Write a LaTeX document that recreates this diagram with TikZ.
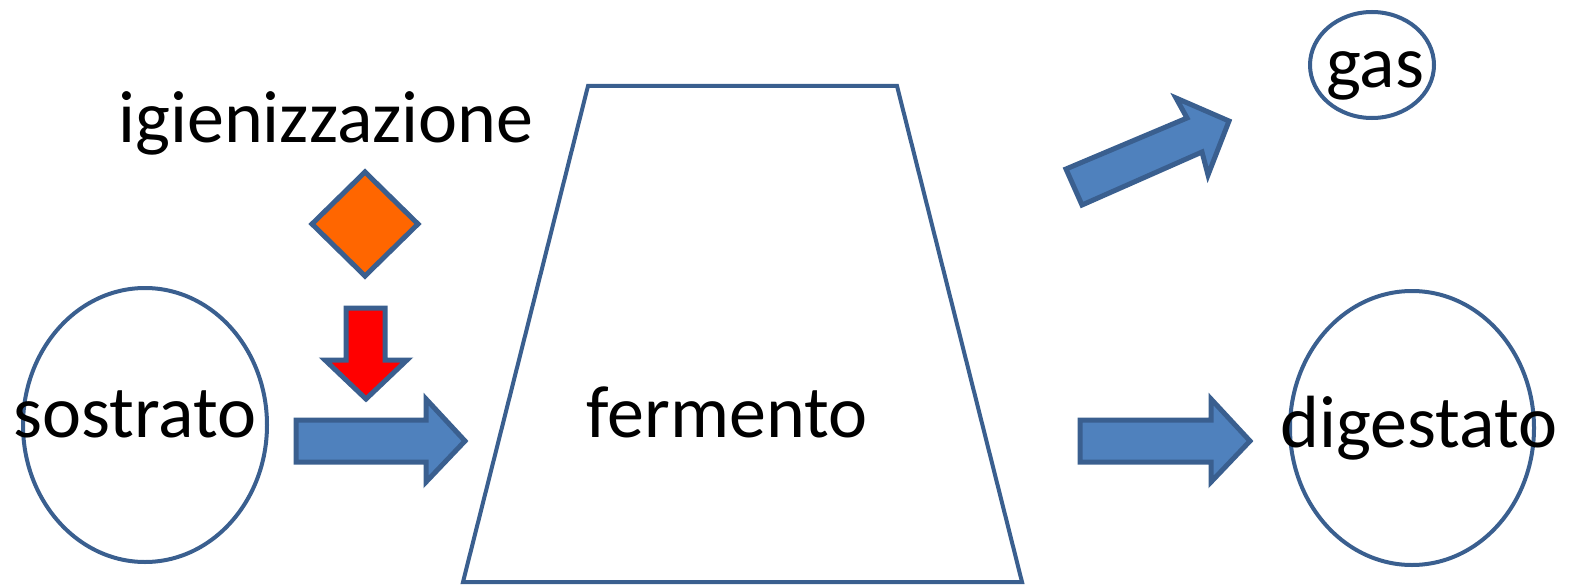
\documentclass[tikz,border=0pt]{standalone}
\usepackage{fontspec}
\setmainfont{Carlito}
\definecolor{edge}{HTML}{3A5F8F}
\definecolor{bluefill}{HTML}{4F81BD}
\definecolor{orangefill}{HTML}{FF6600}
\definecolor{redfill}{HTML}{FF0000}
\tikzset{
  lbl/.style={font=\fontsize{74}{88}\selectfont, inner sep=0pt, anchor=base},
  ring/.style={draw=edge, line width=4pt},
  blockarrow/.style={draw=edge, fill=bluefill, line width=5pt, line join=miter},
}
\begin{document}
\begin{tikzpicture}[x=1pt,y=-1pt]
\useasboundingbox (0,0) rectangle (1572,586);
% ellipses
\draw[ring] (145,425) ellipse [x radius=122, y radius=137];
\draw[ring] (1412,428) ellipse [x radius=122, y radius=137];
\draw[ring] (1372,65) ellipse [x radius=62, y radius=53];
% trapezoid
\draw[ring, line join=miter] (588,86) -- (897,86) -- (1022,582) -- (463,582) -- cycle;
% diamond
\draw[draw=edge, fill=orangefill, line width=5pt] (365,172) -- (418,224) -- (365,276) -- (312,224) -- cycle;
% red down arrow
\draw[draw=edge, fill=redfill, line width=5pt] (346,308) -- (385,308) -- (385,360) -- (407,360) -- (366,399) -- (325,360) -- (346,360) -- cycle;
% sostrato arrow
\draw[blockarrow] (296,420) -- (426,420) -- (426,399) -- (465,441) -- (426,482) -- (426,462) -- (296,462) -- cycle;
% digestato arrow
\draw[blockarrow] (1080,420) -- (1211,420) -- (1211,399) -- (1250,441) -- (1211,482) -- (1211,462) -- (1080,462) -- cycle;
% gas arrow
\draw[blockarrow] (1066,169) -- (1187,118) -- (1176,98) -- (1229,121) -- (1208,175) -- (1202,152) -- (1082,205) -- cycle;
% labels
\node[lbl] (igien) at (326,142) {igienizzazione};
\node[lbl] (sostr) at (135,437) {sostrato};
\node[lbl] (ferm) at (727,437) {fermento};
\node[lbl] (dig) at (1419,447) {digestato};
\node[lbl] (gas) at (1375,88) {gas};
\end{tikzpicture}
\end{document}
